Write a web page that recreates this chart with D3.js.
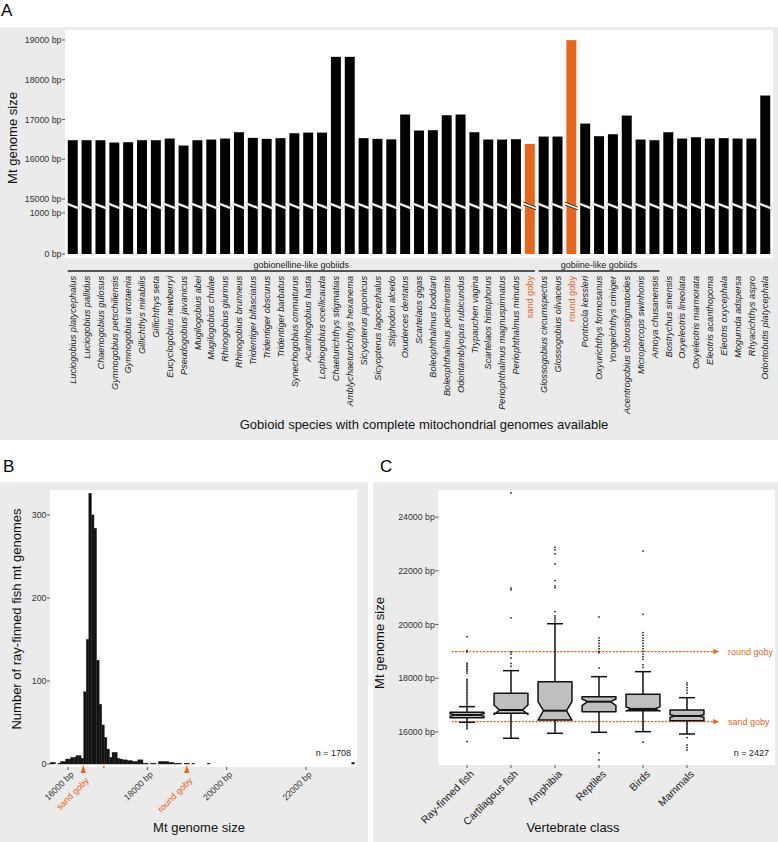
<!DOCTYPE html>
<html><head><meta charset="utf-8">
<script src="https://cdn.jsdelivr.net/npm/d3@7"></script>
<style>
body{margin:0;background:#fff}
text{font-family:"Liberation Sans",Arial,Helvetica,sans-serif}
</style>
</head><body>
<svg id="c" width="778" height="842"></svg>
<script>
// ---------------- Panel A data ----------------
const species = ["Luciogobius platycephalus","Luciogobius pallidus","Chaenogobius gulosus","Gymnogobius petschiliensis","Gymnogobius urotaenia","Gillichthys mirabilis","Gillichthys seta","Eucyclogobius newberryi","Pseudogobius javanicus","Mugilogobius abei","Mugilogobius chulae","Rhinogobius giurinus","Rhinogobius brunneus","Tridentiger bifasciatus","Tridentiger obscurus","Tridentiger barbatus","Synechogobius ommaturus","Acanthogobius hasta","Lophiogobius ocellicauda","Chaeturichthys stigmatias","Amblychaeturichthys hexanema","Sicyopterus japonicus","Sicyopterus lagocephalus","Stiphodon alcedo","Oxuderces dentatus","Scartelaos gigas","Boleophthalmus boddarti","Boleophthalmus pectinirostris","Odontamblyopus rubicundus","Trypauchen vagina","Scartelaos histophorus","Periophthalmus magnuspinnatus","Periophthalmus minutus","sand goby","Glossogobius circumspectus","Glossogobius olivaceus","round goby","Ponticola kessleri","Oxyurichthys formosanus","Yongeichthys criniger","Acentrogobius chlorostigmatoides","Micropercops swinhonis","Amoya chusanensis","Bostrychus sinensis","Oxyeleotris lineolata","Oxyeleotris marmorata","Eleotris acanthopoma","Eleotris oxycephala","Mogurnda adspersa","Rhyacichthys aspro","Odontobutis platycephala"];
const genomeSize = [16478,16478,16478,16420,16428,16478,16478,16520,16344,16478,16495,16520,16679,16537,16512,16530,16654,16670,16670,18575,18575,16530,16512,16500,17125,16722,16730,17107,17125,16679,16495,16495,16503,16385,16570,16570,18995,16897,16579,16629,17098,16495,16478,16679,16520,16553,16520,16530,16520,16520,17602];
const highlighted = ["sand goby","round goby"];
const groupNames = ["gobionelline-like gobiids","gobiine-like gobiids"];
const groupFrom = ["Luciogobius platycephalus","Glossogobius circumspectus"];
const groupTo = ["sand goby","Amoya chusanensis"];
const yTicksA = [0,1000,15000,16000,17000,18000,19000];

// ---------------- Panel B data ----------------
const histStart = 15550, histBinWidth = 65;
const histCounts = [
  2,2,0,1,3,3,6,6,8,8,10,10,7,
  87,150,326,300,284,125,72,47,32,18,8,14,14,
  7,6,5,5,4,4,3,3,5,5,1,1,0,1,1,0,3,3,3,3,2,2,1,1,1,0,1,1,0,1,0,0,0,0,0,1,
  0,0,0,0,0,0,0,0,0,0,0,
  0,0,0,0,0,0,0,0,0,0,0,
  0,0,0,0,0,0,0,0,0,0,0,
  0,0,0,0,0,0,0,0,0,0,0,
  0,0,0,0,0,0,0,0,0,0,0,
  2];
const xTicksB = [16000,18000,20000,22000];
const yTicksB = [0,100,200,300];
const markerLabels = ["sand goby","round goby"];
const markerValues = [16385,18995];
const extraMarkB = [16900];
const nB = 1708;

// ---------------- Panel C data ----------------
const classes = ["Ray-finned fish","Cartilagous fish","Amphibia","Reptiles","Birds","Mammals"];
const q1 = [16533,16696,16447,16757,16793,16421];
const med = [16633,16819,16793,17128,16857,16596];
const q3 = [16733,17441,17873,17315,17404,16819];
const notchLo = [16590,16650,16440,16980,16780,16550];
const notchHi = [16676,17006,17128,17229,16935,16642];
const whiskLo = [16360,15765,15950,15988,16011,15925];
const whiskHi = [16943,18283,20030,18060,18246,17277];
const outliers = [
  [19550,19030,18980,18560,18500,18440,18380,18320,18260,18190,17960,17900,17840,17780,17720,17660,17600,17540,17480,17420,17360,17300,17240,17180,17120,17060,17000,16300,16240,16180,16120,15640],
  [24900,21360,21290,20250,18980,18900,18750,18550,18450],
  [22880,22780,22630,22260,21640,21440,21370,20480,20320,20250,20180,20100],
  [20280,19500,19400,19300,19200,19100,19000,18950,18380,15220,14960],
  [22740,20380,19700,19600,19500,19400,19300,19200,19100,19000,18900,18800,18700,18500,18400,15620],
  [17825,17750,17650,17550,17450,15790,15516,15420,15330]
];
const yTicksC = [16000,18000,20000,22000,24000];
const refLabels = ["round goby","sand goby"];
const refValues = [18995,16385];
const nC = 2427;

// ---------------- Drawing ----------------
const ORANGE = "#e8651e";
const GREY = "#ebebeb";
const svg = d3.select("#c");
const fmt = v => v + " bp";

// panel backgrounds
svg.append("rect").attr("x",0).attr("y",27).attr("width",778).attr("height",413).attr("fill",GREY);
svg.append("rect").attr("x",0).attr("y",482).attr("width",368).attr("height",360).attr("fill",GREY);
svg.append("rect").attr("x",373).attr("y",482).attr("width",405).attr("height",360).attr("fill",GREY);

// panel letters
svg.append("text").attr("x",1).attr("y",16).attr("font-size",17).text("A");
svg.append("text").attr("x",3).attr("y",472).attr("font-size",17).text("B");
svg.append("text").attr("x",380).attr("y",472).attr("font-size",17).text("C");

// ===== Panel A =====
const gA = svg.append("g");
const xA = d3.scaleBand().domain(species).range([65,773]).paddingInner(0.28).paddingOuter(0.2);
const yA = d3.scaleLinear().domain([0,1000,15000,19250]).range([254,213,199,30]);
gA.append("rect").attr("x",65).attr("y",yA(19250)).attr("width",708).attr("height",yA(-100)-yA(19250)).attr("fill","#fff");
const bw = xA.bandwidth();
const isHi = s => highlighted.includes(s);
gA.selectAll("rect.bar").data(species).join("rect").attr("class","bar")
  .attr("x",d=>xA(d)).attr("width",bw)
  .attr("y",(d,i)=>yA(genomeSize[i])).attr("height",(d,i)=>yA(0)-yA(genomeSize[i]))
  .attr("fill",d=>isHi(d)?ORANGE:"#000");
// break marks
const yBrk = yA(8000);
species.forEach(s=>{
  const x0 = xA(s)-1.5, x1 = xA(s)+bw+1.5;
  if(isHi(s)){
    gA.append("line").attr("x1",x0).attr("x2",x1).attr("y1",yBrk-2.5).attr("y2",yBrk+2.5).attr("stroke","#fff").attr("stroke-width",3.2);
    [-1.4,1.4].forEach(o=>gA.append("line").attr("x1",x0).attr("x2",x1).attr("y1",yBrk-2.5+o).attr("y2",yBrk+2.5+o).attr("stroke","#111").attr("stroke-width",0.9));
  } else {
    gA.append("line").attr("x1",x0).attr("x2",x1).attr("y1",yBrk-2.5).attr("y2",yBrk+2.5).attr("stroke","#999").attr("stroke-width",2.6);
    gA.append("line").attr("x1",x0).attr("x2",x1).attr("y1",yBrk-2.5).attr("y2",yBrk+2.5).attr("stroke","#fff").attr("stroke-width",1.6);
  }
});
// y axis
yTicksA.forEach(t=>{
  gA.append("line").attr("x1",62).attr("x2",65).attr("y1",yA(t)).attr("y2",yA(t)).attr("stroke","#333").attr("stroke-width",0.8);
  gA.append("text").attr("x",61.5).attr("y",yA(t)).attr("dy","0.35em").attr("text-anchor","end").attr("font-size",8.8).attr("fill","#333").text(fmt(t));
});
gA.append("text").attr("transform","translate(17,138) rotate(-90)").attr("text-anchor","middle").attr("font-size",13).attr("fill","#111").text("Mt genome size");
// groups
groupNames.forEach((g,i)=>{
  const a = xA(groupFrom[i]), b = xA(groupTo[i])+bw;
  gA.append("line").attr("x1",a).attr("x2",b).attr("y1",271).attr("y2",271).attr("stroke","#222").attr("stroke-width",1.3);
  gA.append("text").attr("x",(a+b)/2).attr("y",268).attr("text-anchor","middle").attr("font-size",9).attr("fill","#222").text(g);
});
// species labels
species.forEach(s=>{
  gA.append("text").attr("transform",`translate(${xA(s)+bw/2},276) rotate(-90)`)
    .attr("text-anchor","end").attr("dy","0.35em").attr("font-size",9.2)
    .attr("font-style",isHi(s)?"normal":"italic").attr("fill",isHi(s)?ORANGE:"#222").text(s);
});
gA.append("text").attr("x",424).attr("y",429).attr("text-anchor","middle").attr("font-size",13).attr("fill","#111").text("Gobioid species with complete mitochondrial genomes available");

// ===== Panel B =====
const gB = svg.append("g");
const xB = d3.scaleLinear().domain([15546,23286]).range([50,357]);
const yB = d3.scaleLinear().domain([-3.6,330]).range([767,490]);
gB.append("rect").attr("x",xB.range()[0]).attr("y",yB.range()[1]).attr("width",xB.range()[1]-xB.range()[0]).attr("height",yB.range()[0]-yB.range()[1]).attr("fill","#fff");
gB.selectAll("rect.h").data(histCounts).join("rect").attr("class","h")
  .attr("x",(d,i)=>xB(histStart+i*histBinWidth))
  .attr("width",(d,i)=>xB(histStart+(i+1)*histBinWidth)-xB(histStart+i*histBinWidth))
  .attr("y",d=>yB(d)).attr("height",d=>yB(0)-yB(d))
  .attr("fill","#111").attr("stroke",d=>d>0?"#222":"none").attr("stroke-width",0.4);
yTicksB.forEach(t=>{
  gB.append("line").attr("x1",47).attr("x2",50).attr("y1",yB(t)).attr("y2",yB(t)).attr("stroke","#333").attr("stroke-width",0.8);
  gB.append("text").attr("x",46.5).attr("y",yB(t)).attr("dy","0.35em").attr("text-anchor","end").attr("font-size",8.8).attr("fill","#333").text(t);
});
xTicksB.forEach(t=>{
  gB.append("line").attr("x1",xB(t)).attr("x2",xB(t)).attr("y1",767).attr("y2",770).attr("stroke","#333").attr("stroke-width",0.8);
  gB.append("text").attr("transform",`translate(${xB(t)+3},772) rotate(-45)`).attr("text-anchor","end").attr("dy","0.5em").attr("font-size",8.8).attr("fill","#333").text(fmt(t));
});
markerValues.forEach((v,i)=>{
  const x = xB(v);
  gB.append("path").attr("d",`M${x},765L${x-2.6},773L${x+2.6},773Z`).attr("fill",ORANGE);
  gB.append("text").attr("transform",`translate(${x+3},778) rotate(-45)`).attr("text-anchor","end").attr("dy","0.5em").attr("font-size",9).attr("fill",ORANGE).text(markerLabels[i]);
});
extraMarkB.forEach(v=>gB.append("circle").attr("cx",xB(v)).attr("cy",767).attr("r",0.9).attr("fill",ORANGE));
gB.append("text").attr("x",351).attr("y",756).attr("text-anchor","end").attr("font-size",9).attr("fill","#222").text("n = "+nB);
gB.append("text").attr("x",199).attr("y",832).attr("text-anchor","middle").attr("font-size",13).attr("fill","#111").text("Mt genome size");
gB.append("text").attr("transform","translate(21,619) rotate(-90)").attr("text-anchor","middle").attr("font-size",13).attr("fill","#111").text("Number of ray-finned fish mt genomes");

// ===== Panel C =====
const gC = svg.append("g");
const xC = d3.scaleLinear().domain([1,6]).range([467,687]);
const yC = d3.scaleLinear().domain([14770,25010]).range([765,490]);
gC.append("rect").attr("x",xC(0.35)).attr("y",yC(25010)).attr("width",xC(8)-xC(0.35)).attr("height",yC(14770)-yC(25010)).attr("fill","#fff");
yTicksC.forEach(t=>{
  gC.append("line").attr("x1",xC(0.35)-3).attr("x2",xC(0.35)).attr("y1",yC(t)).attr("y2",yC(t)).attr("stroke","#333").attr("stroke-width",0.8);
  gC.append("text").attr("x",xC(0.35)-3.5).attr("y",yC(t)).attr("dy","0.35em").attr("text-anchor","end").attr("font-size",8.8).attr("fill","#333").text(fmt(t));
});
// reference lines
refValues.forEach((v,i)=>{
  const y = yC(v);
  gC.append("line").attr("x1",xC(0.65)).attr("x2",xC(6.62)).attr("y1",y).attr("y2",y).attr("stroke",ORANGE).attr("stroke-width",1.2).attr("stroke-dasharray","2.2,1.3");
  const xa = xC(6.62);
  gC.append("path").attr("d",`M${xa+5},${y}L${xa-1},${y-2.6}L${xa-1},${y+2.6}Z`).attr("fill",ORANGE);
  gC.append("text").attr("x",xC(6.93)).attr("y",y).attr("dy","0.35em").attr("font-size",9).attr("fill",ORANGE).text(refLabels[i]);
});
const boxW = (xC(2)-xC(1))*0.77, capW = 16, ind = boxW*0.16;
classes.forEach((c,i)=>{
  const cx = xC(i+1), l = cx-boxW/2, r = cx+boxW/2;
  gC.append("line").attr("x1",cx).attr("x2",cx).attr("y1",yC(q3[i])).attr("y2",yC(whiskHi[i])).attr("stroke","#111").attr("stroke-width",1.5);
  gC.append("line").attr("x1",cx).attr("x2",cx).attr("y1",yC(q1[i])).attr("y2",yC(whiskLo[i])).attr("stroke","#111").attr("stroke-width",1.5);
  [whiskHi[i],whiskLo[i]].forEach(w=>gC.append("line").attr("x1",cx-capW/2).attr("x2",cx+capW/2).attr("y1",yC(w)).attr("y2",yC(w)).attr("stroke","#111").attr("stroke-width",1.5));
  const pts = [[l,yC(q3[i])],[r,yC(q3[i])],[r,yC(notchHi[i])],[r-ind,yC(med[i])],[r,yC(notchLo[i])],[r,yC(q1[i])],
               [l,yC(q1[i])],[l,yC(notchLo[i])],[l+ind,yC(med[i])],[l,yC(notchHi[i])]];
  gC.append("path").attr("d","M"+pts.map(p=>p.join(",")).join("L")+"Z").attr("fill","#bfbfbf").attr("stroke","#111").attr("stroke-width",1.5).attr("stroke-linejoin","round");
  gC.append("line").attr("x1",l+ind).attr("x2",r-ind).attr("y1",yC(med[i])).attr("y2",yC(med[i])).attr("stroke","#111").attr("stroke-width",2);
  outliers[i].forEach(o=>gC.append("rect").attr("x",cx-0.75).attr("y",yC(o)-0.75).attr("width",1.5).attr("height",1.5).attr("fill","#111"));
  gC.append("line").attr("x1",cx).attr("x2",cx).attr("y1",765).attr("y2",768).attr("stroke","#333").attr("stroke-width",0.8);
  gC.append("text").attr("transform",`translate(${cx+4},771) rotate(-45)`).attr("text-anchor","end").attr("dy","0.5em").attr("font-size",10.5).attr("fill","#222").text(c);
});
gC.append("text").attr("x",xC(8)-6).attr("y",756).attr("text-anchor","end").attr("font-size",9).attr("fill","#222").text("n = "+nC);
gC.append("text").attr("x",573).attr("y",832).attr("text-anchor","middle").attr("font-size",13).attr("fill","#111").text("Vertebrate class");
gC.append("text").attr("transform","translate(384,643) rotate(-90)").attr("text-anchor","middle").attr("font-size",13).attr("fill","#111").text("Mt genome size");
</script>
</body></html>
